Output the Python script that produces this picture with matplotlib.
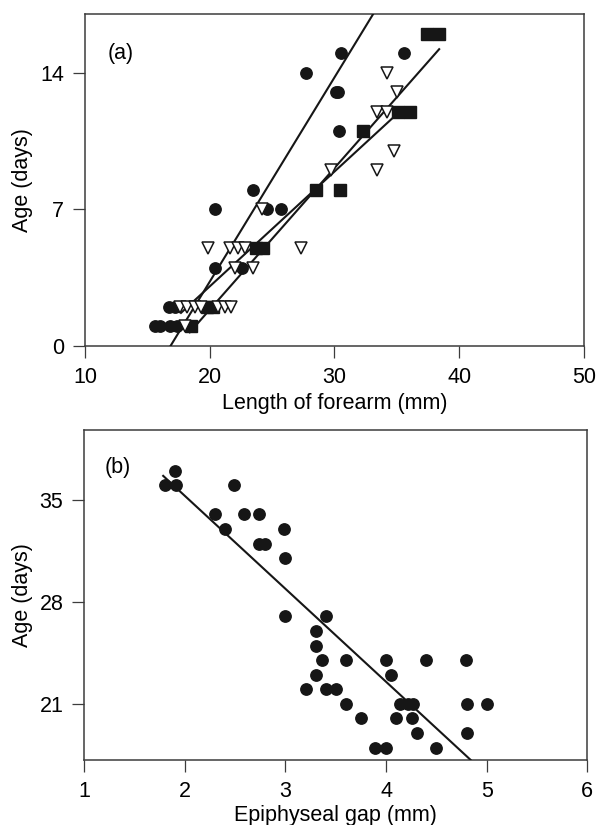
import numpy as np
from matplotlib import pyplot as plt

plt.rcParams['font.family'] = ['Liberation Sans', 'DejaVu Sans']

# ---- panel (a): forearm length (mm) vs age (days), three groups
circ_x = [15.6, 16.0, 16.8, 17.4, 16.7, 17.2, 20.4, 22.6, 20.4, 24.6, 25.7,
          23.5, 30.4, 30.1, 30.3, 27.7, 30.5, 35.6]
circ_y = [1, 1, 1, 1, 2, 2, 4, 4, 7, 7, 7, 8, 11, 13, 13, 14, 15, 15]

tri_x = [18.0, 17.6, 18.2, 18.8, 19.3, 20.7, 21.2, 21.7, 22.0, 23.5,
         19.9, 21.6, 22.3, 22.8, 27.3, 24.2, 29.7, 33.4, 34.8, 33.4, 34.2,
         35.0, 34.2]
tri_y = [1, 2, 2, 2, 2, 2, 2, 2, 4, 4, 5, 5, 5, 5, 5, 7, 9, 9, 10, 12, 12,
         13, 14]

sq_x = [18.5, 19.8, 20.3, 23.7, 24.3, 28.5, 30.45, 32.3, 35.1, 36.1, 37.4,
        38.4]
sq_y = [1, 2, 2, 5, 5, 8, 8, 11, 12, 12, 16, 16]

# fitted lines: (slope, intercept, x_from, x_to)
fit_circ = (1.046, -17.63, 16.85, 33.1)
fit_tri = (0.588, -8.71, 17.7, 34.8)
fit_sq = (0.725, -12.64, 18.4, 38.4)

# ---- panel (b): epiphyseal gap (mm) vs age (days)
gap_x = [1.80, 1.90, 1.91, 2.49, 2.30, 2.59, 2.74, 2.40, 2.99, 2.74, 2.80,
         3.00, 3.00, 3.40, 3.30, 3.30, 3.36, 3.60, 4.00, 4.40, 4.79, 3.30,
         4.05, 3.20, 3.40, 3.50, 3.60, 4.14, 4.22, 4.27, 4.80, 5.00, 3.75,
         4.10, 4.26, 4.31, 4.80, 3.89, 4.00, 4.50]
gap_y = [36, 37, 36, 36, 34, 34, 34, 33, 33, 32, 32,
         31, 27, 27, 26, 25, 24, 24, 24, 24, 24, 23,
         23, 22, 22, 22, 21, 21, 21, 21, 21, 21, 20,
         20, 20, 19, 19, 18, 18, 18]
fit_gap = (-6.38, 48.04, 1.785, 4.84)

fs = 15.5
ink = '#161616'
spine_col = '#3c3c3c'

fig = plt.figure(figsize=(5.96, 8.25), dpi=100)
ax1 = fig.add_axes([0.1426, 0.5806, 0.8370, 0.4024])
ax2 = fig.add_axes([0.1413, 0.0788, 0.8440, 0.4000])


def style(ax):
    for s in ax.spines.values():
        s.set_color(spine_col)
        s.set_linewidth(1.1)
    ax.tick_params(direction='out', length=8.5, width=0.9, color=spine_col,
                   labelsize=fs, pad=6.5, top=False, right=False)


def draw_fit(ax, fit):
    slope, icpt, x0, x1 = fit
    xs = np.array([x0, x1])
    ax.plot(xs, slope * xs + icpt, color=ink, lw=1.5, zorder=3)


# panel (a)
for f in (fit_circ, fit_tri, fit_sq):
    draw_fit(ax1, f)
ax1.plot(circ_x, circ_y, 'o', ms=8.2, color=ink, mec=ink, zorder=4)
ax1.plot(sq_x, sq_y, 's', ms=8.2, color=ink, mec=ink, zorder=4)
ax1.plot(tri_x, tri_y, 'v', ms=8.8, mfc='white', mec=ink, mew=1.1, zorder=5)
ax1.set_xlim(10, 50)
ax1.set_ylim(0, 17)
ax1.set_xticks([10, 20, 30, 40, 50])
ax1.set_yticks([0, 7, 14])
ax1.set_xlabel('Length of forearm (mm)', fontsize=fs, labelpad=4)
ax1.set_ylabel('Age (days)', fontsize=fs, labelpad=5)
ax1.text(0.045, 0.88, '(a)', transform=ax1.transAxes, fontsize=fs,
         va='center', ha='left')
style(ax1)

# panel (b)
draw_fit(ax2, fit_gap)
ax2.plot(gap_x, gap_y, 'o', ms=8.2, color=ink, mec=ink, zorder=4)
ax2.set_xlim(1, 6)
ax2.set_ylim(17.15, 39.8)
ax2.set_xticks([1, 2, 3, 4, 5, 6])
ax2.set_yticks([21, 28, 35])
ax2.set_xlabel('Epiphyseal gap (mm)', fontsize=fs, labelpad=2)
ax2.set_ylabel('Age (days)', fontsize=fs, labelpad=5)
ax2.text(0.04, 0.885, '(b)', transform=ax2.transAxes, fontsize=fs,
         va='center', ha='left')
style(ax2)

fig.savefig('out.png', dpi=100)
